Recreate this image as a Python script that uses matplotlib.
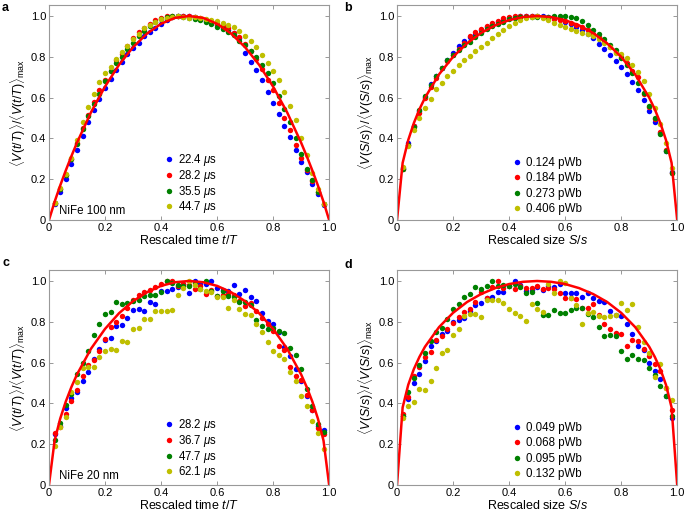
import matplotlib
matplotlib.use('Agg')
import matplotlib.pyplot as plt

plt.rcParams['font.family'] = ['Liberation Sans', 'DejaVu Sans']
plt.rcParams['mathtext.fontset'] = 'custom'
plt.rcParams['mathtext.rm'] = 'Liberation Sans'
plt.rcParams['mathtext.it'] = 'Liberation Sans:italic'
plt.rcParams['mathtext.bf'] = 'Liberation Sans:bold'

# rescaled position of every data point (same for all panels)
x_pts = [0.02, 0.04, 0.06, 0.08, 0.10, 0.12, 0.14, 0.16, 0.18, 0.20,
         0.22, 0.24, 0.26, 0.28, 0.30, 0.32, 0.34, 0.36, 0.38, 0.40,
         0.42, 0.44, 0.46, 0.48, 0.50, 0.52, 0.54, 0.56, 0.58, 0.60,
         0.62, 0.64, 0.66, 0.68, 0.70, 0.72, 0.74, 0.76, 0.78, 0.80,
         0.82, 0.84, 0.86, 0.88, 0.90, 0.92, 0.94, 0.96, 0.98]

# panel a: NiFe 100 nm, average shape at fixed duration
a_labels = ['22.4 $\\mu$s', '28.2 $\\mu$s', '35.5 $\\mu$s', '44.7 $\\mu$s']
a_blue = [0.08, 0.135, 0.20, 0.275, 0.345, 0.41, 0.48, 0.54, 0.595, 0.645,
          0.69, 0.735, 0.775, 0.815, 0.845, 0.87, 0.90, 0.92, 0.94, 0.96,
          0.98, 0.993, 1.0, 1.0, 1.0, 0.995, 0.985, 0.975, 0.965, 0.955,
          0.94, 0.93, 0.915, 0.89, 0.82, 0.775, 0.735, 0.685, 0.63, 0.575,
          0.52, 0.46, 0.405, 0.345, 0.285, 0.235, 0.175, 0.13, 0.072]
a_red = [0.085, 0.15, 0.22, 0.30, 0.38, 0.45, 0.515, 0.58, 0.635, 0.685,
         0.73, 0.785, 0.815, 0.855, 0.89, 0.92, 0.94, 0.96, 0.98, 0.99,
         0.998, 1.0, 1.0, 1.0, 1.0, 0.995, 0.99, 0.98, 0.97, 0.96,
         0.95, 0.94, 0.915, 0.895, 0.865, 0.83, 0.79, 0.74, 0.685, 0.635,
         0.575, 0.50, 0.44, 0.37, 0.305, 0.245, 0.19, 0.135, 0.08]
a_green = [0.085, 0.15, 0.22, 0.30, 0.375, 0.445, 0.51, 0.57, 0.62, 0.68,
           0.73, 0.77, 0.80, 0.84, 0.866, 0.90, 0.925, 0.95, 0.97, 0.985,
           0.993, 1.0, 1.0, 0.995, 0.99, 0.985, 0.98, 0.97, 0.96, 0.945,
           0.935, 0.92, 0.905, 0.88, 0.86, 0.83, 0.80, 0.76, 0.72, 0.67,
           0.61, 0.545, 0.48, 0.40, 0.325, 0.25, 0.195, 0.135, 0.08]
a_yellow = [0.085, 0.155, 0.225, 0.305, 0.39, 0.48, 0.555, 0.62, 0.675, 0.72,
            0.75, 0.79, 0.825, 0.855, 0.885, 0.91, 0.94, 0.955, 0.97, 0.985,
            0.99, 0.995, 1.0, 0.995, 0.99, 0.995, 0.99, 0.985, 0.98, 0.975,
            0.965, 0.955, 0.945, 0.925, 0.90, 0.88, 0.85, 0.81, 0.77, 0.73,
            0.685, 0.63, 0.56, 0.49, 0.40, 0.32, 0.23, 0.15, 0.08]

# panel b: NiFe 100 nm, average shape at fixed size
b_labels = ['0.124 pWb', '0.184 pWb', '0.273 pWb', '0.406 pWb']
b_blue = [0.255, 0.38, 0.46, 0.535, 0.605, 0.665, 0.705, 0.745, 0.785, 0.82,
          0.853, 0.877, 0.895, 0.912, 0.93, 0.945, 0.96, 0.97, 0.98, 0.99,
          0.995, 1.0, 1.0, 1.0, 1.0, 1.0, 0.995, 0.99, 0.985, 0.97,
          0.96, 0.945, 0.93, 0.91, 0.89, 0.865, 0.84, 0.81, 0.78, 0.75,
          0.715, 0.675, 0.635, 0.59, 0.535, 0.48, 0.425, 0.34, 0.235]
b_red = [0.25, 0.37, 0.46, 0.525, 0.60, 0.65, 0.695, 0.745, 0.78, 0.81,
         0.84, 0.87, 0.90, 0.923, 0.935, 0.951, 0.964, 0.975, 0.989, 0.997,
         1.0, 1.0, 1.0, 1.0, 1.0, 0.995, 0.99, 0.985, 0.98, 0.975,
         0.965, 0.955, 0.945, 0.93, 0.91, 0.895, 0.875, 0.85, 0.825, 0.80,
         0.77, 0.73, 0.70, 0.62, 0.555, 0.495, 0.43, 0.345, 0.23]
b_green = [0.25, 0.37, 0.457, 0.54, 0.61, 0.66, 0.705, 0.747, 0.785, 0.81,
           0.835, 0.86, 0.874, 0.895, 0.915, 0.935, 0.95, 0.96, 0.972, 0.984,
           0.99, 0.993, 0.995, 0.995, 0.995, 0.995, 0.995, 1.0, 1.0, 1.0,
           0.997, 0.99, 0.975, 0.956, 0.93, 0.91, 0.885, 0.86, 0.835, 0.795,
           0.76, 0.72, 0.67, 0.625, 0.56, 0.50, 0.42, 0.34, 0.23]
b_yellow = [0.26, 0.365, 0.44, 0.50, 0.55, 0.595, 0.64, 0.67, 0.705, 0.73,
            0.76, 0.785, 0.805, 0.83, 0.85, 0.87, 0.89, 0.91, 0.93, 0.95,
            0.965, 0.98, 0.99, 0.995, 1.0, 0.99, 0.98, 0.965, 0.955, 0.945,
            0.935, 0.925, 0.915, 0.91, 0.90, 0.885, 0.87, 0.85, 0.82, 0.815,
            0.795, 0.76, 0.725, 0.68, 0.62, 0.55, 0.47, 0.38, 0.255]

# panel c: NiFe 20 nm, fixed duration
c_labels = ['28.2 $\\mu$s', '36.7 $\\mu$s', '47.7 $\\mu$s', '62.1 $\\mu$s']
c_blue = [0.25, 0.29, 0.375, 0.425, 0.455, 0.51, 0.555, 0.62, 0.665, 0.71,
          0.72, 0.78, 0.785, 0.82, 0.86, 0.865, 0.855, 0.895, 0.885, 0.95,
          0.95, 0.96, 0.97, 0.985, 0.94, 1.0, 0.985, 0.985, 1.0, 0.965,
          0.955, 0.95, 0.98, 0.935, 0.955, 0.92, 0.90, 0.845, 0.805, 0.79,
          0.75, 0.675, 0.63, 0.57, 0.51, 0.435, 0.37, 0.29, 0.27]
c_red = [0.255, 0.285, 0.35, 0.41, 0.465, 0.535, 0.59, 0.615, 0.655, 0.715,
         0.775, 0.80, 0.83, 0.87, 0.905, 0.93, 0.945, 0.955, 0.97, 0.985,
         1.0, 1.0, 0.975, 0.985, 0.98, 0.96, 0.975, 0.935, 0.955, 0.925,
         0.93, 0.935, 0.93, 0.90, 0.875, 0.89, 0.855, 0.82, 0.79, 0.755,
         0.68, 0.66, 0.58, 0.535, 0.515, 0.44, 0.37, 0.28, 0.25]
c_green = [0.22, 0.305, 0.39, 0.445, 0.545, 0.60, 0.655, 0.735, 0.79, 0.84,
           0.85, 0.895, 0.885, 0.89, 0.90, 0.905, 0.925, 0.93, 0.93, 0.945,
           1.0, 0.99, 0.98, 0.975, 0.975, 0.99, 0.96, 1.0, 0.95, 0.925,
           0.95, 0.925, 0.92, 0.895, 0.895, 0.88, 0.81, 0.78, 0.765, 0.77,
           0.755, 0.745, 0.67, 0.635, 0.57, 0.47, 0.385, 0.30, 0.26]
c_yellow = [0.19, 0.285, 0.335, 0.455, 0.505, 0.575, 0.58, 0.58, 0.625, 0.655,
            0.665, 0.66, 0.705, 0.70, 0.765, 0.77, 0.815, 0.815, 0.855, 0.855,
            0.855, 0.86, 0.93, 0.965, 1.0, 0.98, 0.96, 0.95, 0.945, 0.92,
            0.92, 0.87, 0.905, 0.865, 0.84, 0.835, 0.79, 0.75, 0.70, 0.655,
            0.635, 0.62, 0.555, 0.51, 0.435, 0.385, 0.315, 0.255, 0.175]

# panel d: NiFe 20 nm, fixed size
d_labels = ['0.049 pWb', '0.068 pWb', '0.095 pWb', '0.132 pWb']
d_blue = [0.34, 0.42, 0.50, 0.545, 0.61, 0.68, 0.705, 0.74, 0.755, 0.80,
          0.81, 0.82, 0.855, 0.88, 0.89, 0.915, 0.92, 0.945, 0.945, 0.975,
          1.0, 0.98, 0.95, 0.955, 0.97, 0.955, 0.975, 0.97, 0.985, 0.94,
          0.94, 0.94, 0.92, 0.94, 0.915, 0.90, 0.895, 0.855, 0.835, 0.83,
          0.79, 0.74, 0.68, 0.66, 0.60, 0.56, 0.52, 0.435, 0.33]
d_red = [0.35, 0.43, 0.535, 0.58, 0.625, 0.65, 0.71, 0.73, 0.765, 0.795,
         0.825, 0.85, 0.865, 0.895, 0.945, 0.915, 0.97, 1.0, 0.965, 0.975,
         0.96, 0.975, 0.965, 0.965, 0.975, 0.96, 0.965, 0.96, 0.94, 0.915,
         0.915, 0.91, 0.87, 0.87, 0.885, 0.835, 0.79, 0.765, 0.745, 0.74,
         0.68, 0.71, 0.705, 0.665, 0.63, 0.595, 0.56, 0.475, 0.37]
d_green = [0.34, 0.455, 0.525, 0.59, 0.645, 0.705, 0.75, 0.77, 0.815, 0.865,
           0.885, 0.92, 0.935, 0.97, 0.96, 0.975, 1.0, 0.975, 0.98, 0.975,
           0.985, 0.97, 0.94, 0.945, 0.89, 0.835, 0.835, 0.86, 0.845, 0.845,
           0.86, 0.87, 0.87, 0.84, 0.825, 0.775, 0.73, 0.735, 0.73, 0.655,
           0.62, 0.635, 0.62, 0.615, 0.575, 0.54, 0.485, 0.435, 0.34]
d_yellow = [0.33, 0.385, 0.405, 0.47, 0.465, 0.51, 0.575, 0.645, 0.66, 0.735,
            0.765, 0.83, 0.84, 0.84, 0.825, 0.905, 0.905, 0.905, 0.89, 0.865,
            0.845, 0.83, 0.805, 0.885, 0.865, 0.85, 0.985, 0.94, 1.0, 0.99,
            0.915, 0.88, 0.79, 0.845, 0.85, 0.83, 0.825, 0.83, 0.835, 0.89,
            0.86, 0.885, 0.775, 0.70, 0.645, 0.53, 0.595, 0.475, 0.415]

# red scaling curves
curve_x = [0, 0.02, 0.04, 0.06, 0.08, 0.10, 0.15, 0.20, 0.25, 0.30, 0.35,
           0.40, 0.45, 0.50, 0.55, 0.60, 0.65, 0.70, 0.75, 0.80, 0.85,
           0.90, 0.92, 0.94, 0.96, 0.98, 1.0]
a_curve = [0, 0.089, 0.169, 0.243, 0.313, 0.379, 0.528, 0.654, 0.761, 0.847, 0.914,
           0.962, 0.991, 1.0, 0.991, 0.962, 0.914, 0.847, 0.761, 0.654, 0.528,
           0.379, 0.313, 0.243, 0.169, 0.089, 0]
b_curve = [0, 0.280, 0.392, 0.475, 0.543, 0.600, 0.714, 0.800, 0.866, 0.917, 0.954,
           0.980, 0.995, 1.0, 0.995, 0.980, 0.954, 0.917, 0.866, 0.800, 0.714,
           0.600, 0.543, 0.475, 0.392, 0.280, 0]
c_curve = [0, 0.217, 0.325, 0.409, 0.480, 0.542, 0.668, 0.765, 0.842, 0.901, 0.945,
           0.976, 0.994, 1.0, 0.994, 0.976, 0.945, 0.901, 0.842, 0.765, 0.668,
           0.542, 0.480, 0.409, 0.325, 0.217, 0]
d_curve = [0, 0.380, 0.491, 0.568, 0.628, 0.678, 0.774, 0.844, 0.897, 0.936, 0.965,
           0.985, 0.996, 1.0, 0.996, 0.985, 0.965, 0.936, 0.897, 0.844, 0.774,
           0.678, 0.628, 0.568, 0.491, 0.380, 0]

colors = ['#0000ff', '#ff0000', '#008000', '#bfbf00']
ticks = [0, 0.2, 0.4, 0.6, 0.8, 1.0]
tick_labels = ['0', '0.2', '0.4', '0.6', '0.8', '1.0']
ylab_t = r'$\langle V(t/T)\rangle/\langle V(t/T)\rangle_{\rm max}$'
ylab_s = r'$\langle V(S/s)\rangle/\langle V(S/s)\rangle_{\rm max}$'


def panel(ax, series, labels, curve, xlabel, ylabel, spacing, note=None):
    for ys, lab, col in zip(series, labels, colors):
        ax.plot(x_pts, ys, 'o', color=col, ms=3.9, mec='none', label=lab)
    ax.plot(curve_x, curve, '-', color='#ff0000', lw=1.8)
    ax.set_xlim(0, 1)
    ax.set_ylim(0, 1.054)
    ax.set_xticks(ticks)
    ax.set_xticklabels(tick_labels)
    ax.set_yticks(ticks)
    ax.set_yticklabels(tick_labels)
    ax.tick_params(direction='in', length=3, width=0.6, color='#888888',
                   labelsize=8, top=True, right=True, pad=2)
    for sp in ax.spines.values():
        sp.set_color('#999999')
        sp.set_linewidth(0.8)
    ax.set_xlabel(xlabel, fontsize=9, labelpad=1)
    ax.set_ylabel(ylabel, fontsize=9, labelpad=2)
    ax.legend(loc='lower left', bbox_to_anchor=(0.39, -0.005), frameon=False,
              numpoints=1, handlelength=0.8, handletextpad=0.45,
              labelspacing=spacing, fontsize=8.3, borderaxespad=0.1)
    if note:
        ax.text(0.035, 0.042, note, transform=ax.transAxes, fontsize=8.3,
                va='center', ha='left')


fig = plt.figure(figsize=(6.85, 5.16), dpi=100)
ax_a = fig.add_axes([0.0715, 0.5736, 0.409, 0.4167])
ax_b = fig.add_axes([0.5796, 0.5736, 0.409, 0.4167])
ax_c = fig.add_axes([0.0715, 0.0601, 0.409, 0.4167])
ax_d = fig.add_axes([0.5796, 0.0601, 0.409, 0.4167])

panel(ax_a, [a_blue, a_red, a_green, a_yellow], a_labels, a_curve,
      'Rescaled time $t/T$', ylab_t, -0.03, 'NiFe 100 nm')
panel(ax_b, [b_blue, b_red, b_green, b_yellow], b_labels, b_curve,
      'Rescaled size $S/s$', ylab_s, 0.31)
panel(ax_c, [c_blue, c_red, c_green, c_yellow], c_labels, c_curve,
      'Rescaled time $t/T$', ylab_t, -0.03, 'NiFe 20 nm')
panel(ax_d, [d_blue, d_red, d_green, d_yellow], d_labels, d_curve,
      'Rescaled size $S/s$', ylab_s, 0.31)

for lab, x, y in [('a', 0.003, 0.985), ('b', 0.503, 0.985),
                  ('c', 0.003, 0.49), ('d', 0.503, 0.487)]:
    fig.text(x, y, lab, fontsize=9, fontweight='bold', va='center')

fig.savefig('out.png', dpi=100)
